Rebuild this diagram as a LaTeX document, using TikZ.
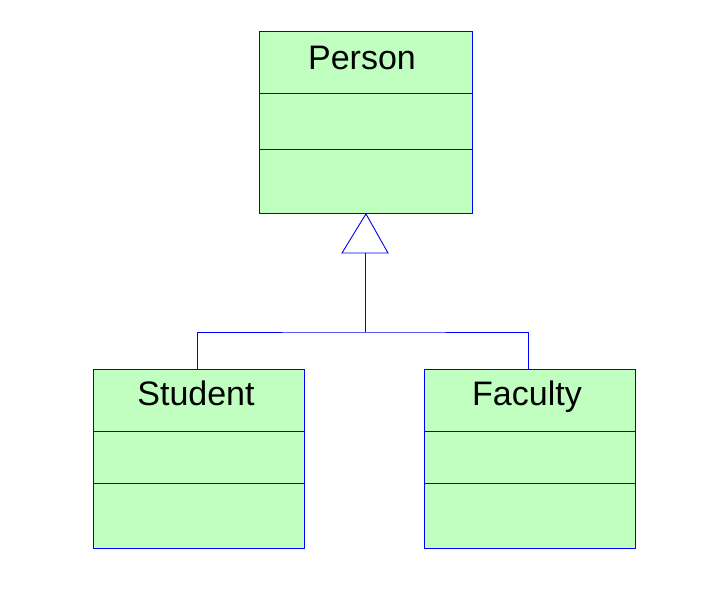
\documentclass[tikz,border=0pt]{standalone}
\usepackage{fontspec}
\setmainfont{Liberation Sans}
\definecolor{umlfill}{HTML}{C0FFC0}
\definecolor{umlline}{HTML}{0000FF}
\begin{document}
\begin{tikzpicture}[x=1pt,y=-1pt,
  classbox/.style={draw=umlline,fill=umlfill,line width=0.9pt,rectangle,inner sep=0pt,anchor=north west},
  divider/.style={draw=umlline,line width=0.9pt},
  conn/.style={draw=umlline,line width=0.9pt},
  classname/.style={font=\fontsize{34}{37}\selectfont,anchor=base,inner sep=0pt}]
\useasboundingbox (0,0) rectangle (715,590);
% Person
\node[classbox,minimum width=213pt,minimum height=182pt] (person) at (259,31) {};
\draw[divider] (259,93) -- (472,93);
\draw[divider] (259,149) -- (472,149);
\node[classname] (personname) at (362,69) {Person};
% Student
\node[classbox,minimum width=211pt,minimum height=179pt] (student) at (93,369) {};
\draw[divider] (93,431) -- (304,431);
\draw[divider] (93,483) -- (304,483);
\node[classname] (studentname) at (196,405) {Student};
% Faculty
\node[classbox,minimum width=211pt,minimum height=179pt] (faculty) at (424,369) {};
\draw[divider] (424,431) -- (635,431);
\draw[divider] (424,483) -- (635,483);
\node[classname] (facultyname) at (527,405) {Faculty};
% generalization
\coordinate (apex) at (person.south);
\coordinate (bl) at (342,253);
\coordinate (br) at (388,253);
\coordinate (tb) at (365,253);
\coordinate (junction) at (365,332);
\coordinate (sconn) at ([xshift=-1.5pt]student.north);
\coordinate (fconn) at ([xshift=-1.5pt]faculty.north);
\draw[conn,fill=white] (apex) -- (br) -- (bl) -- cycle;
\draw[conn] (tb) -- (junction);
\draw[conn] (sconn) |- (junction) -| (fconn);
\end{tikzpicture}
\end{document}
